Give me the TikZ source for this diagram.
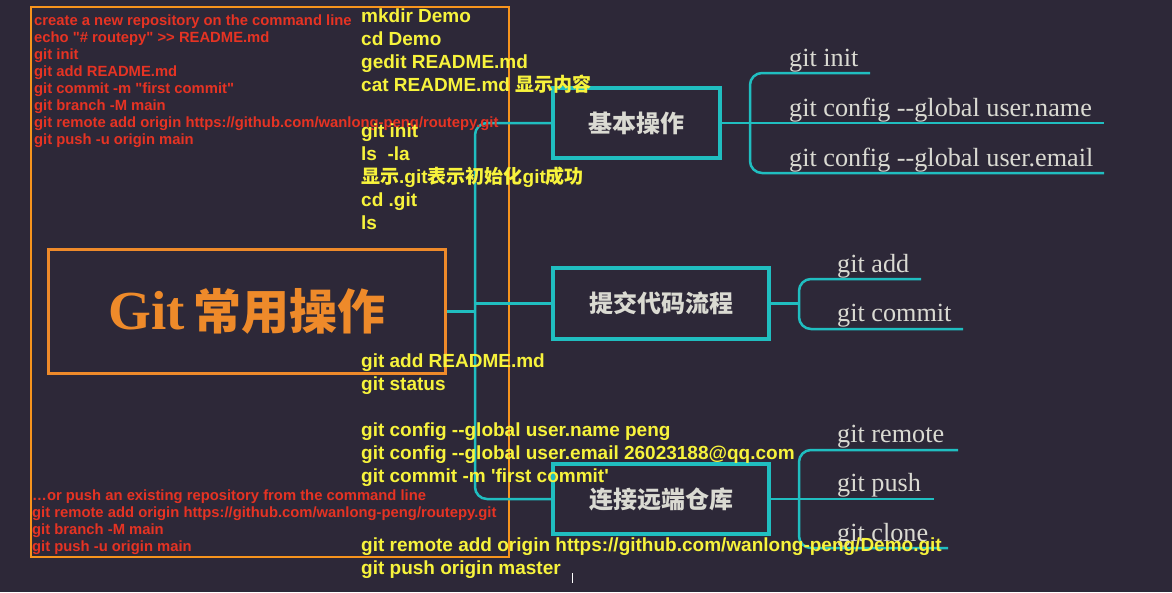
\documentclass[tikz,border=0pt]{standalone}
\usepackage{fontspec}
\setmainfont{Liberation Serif}[Ligatures=TeXOff]
\newfontfamily\arialb{Liberation Sans}[Ligatures=TeXOff]
\newfontfamily\cjk{Noto Sans CJK SC}
\definecolor{cbg}{HTML}{2D2838}
\definecolor{corange}{HTML}{F7941D}
\definecolor{croot}{HTML}{EE8A2A}
\definecolor{cteal}{HTML}{20BEC0}
\definecolor{cyellow}{HTML}{F7F33C}
\definecolor{cred}{HTML}{E63323}
\definecolor{cgray}{HTML}{DADAD2}
\begin{document}
\begin{tikzpicture}[x=1pt,y=-1pt,
  ytxt/.style={anchor=base west, inner sep=0pt, text=cyellow, font=\arialb\bfseries\fontsize{19}{22}\selectfont},
  rtxt/.style={anchor=base west, inner sep=0pt, text=cred, font=\arialb\bfseries\fontsize{14.8}{16}\selectfont},
  leaf/.style={anchor=base west, inner sep=0pt, text=cgray, font=\fontsize{26.2}{28}\selectfont},
  box/.style={draw=cteal, line width=4pt, inner sep=0pt, text=cgray, font=\cjk\bfseries\fontsize{24}{28}\selectfont},
  conn/.style={draw=cteal, line width=2.5pt, rounded corners=12pt},
]
\fill[cbg] (0,0) rectangle (1172,592);
\useasboundingbox (0,0) rectangle (1172,592);

% outer frame
\draw[corange, line width=2pt] (31,7) rectangle (509,557);

% root
\node[draw=croot, line width=3pt, minimum width=397pt, minimum height=124pt, inner sep=0pt, text=croot]
  (root) at (247,311.5) {\fontsize{55}{58}\selectfont\bfseries Git\hspace{8pt}{\cjk\bfseries\fontsize{48}{50}\selectfont 常用操作}};

% branch boxes
\node[box, minimum width=167pt, minimum height=70pt] (b1) at (636.5,123) {基本操作};
\node[box, minimum width=216pt, minimum height=71pt] (b2) at (661,303.5) {提交代码流程};
\node[box, minimum width=216pt, minimum height=70pt] (b3) at (661,499) {连接远端仓库};

% spine
\coordinate (s0) at (475,311.5);
\coordinate (st) at (475,123);
\coordinate (sb) at (475,499);
\coordinate (s2) at (475,303.5);
\draw[conn] (root.east) -- (s0);
\draw[conn] (b1.west) -- (st) -- (sb) -- (b3.west);
\draw[conn] (s2) -- (b2.west);

% box1 children
\coordinate (k1t) at (750,73);
\coordinate (k1b) at (750,173);
\coordinate (e11) at (870,73);
\coordinate (e12) at (1104,123);
\coordinate (e13) at (1104,173);
\draw[conn] (b1.east) -- (e12);
\draw[conn] (e11) -- (k1t) -- (k1b) -- (e13);
\node[leaf] (l11) at (789,66) {git init};
\node[leaf] (l12) at (789,116) {git config --global user.name};
\node[leaf] (l13) at (789,166) {git config --global user.email};

% box2 children
\coordinate (k2) at (799,303.5);
\coordinate (k2t) at (799,279);
\coordinate (k2b) at (799,329);
\coordinate (e21) at (921,279);
\coordinate (e22) at (963,329);
\draw[conn] (b2.east) -- (k2);
\draw[conn] (e21) -- (k2t) -- (k2b) -- (e22);
\node[leaf] (l21) at (837,272) {git add};
\node[leaf] (l22) at (837,321) {git commit};

% box3 children
\coordinate (k3t) at (799,450);
\coordinate (k3b) at (799,548);
\coordinate (e31) at (958,450);
\coordinate (e32) at (934,499);
\coordinate (e33) at (948,548);
\draw[conn] (b3.east) -- (e32);
\draw[conn] (e31) -- (k3t) -- (k3b) -- (e33);
\node[leaf] (l31) at (837,442) {git remote};
\node[leaf] (l32) at (837,491) {git push};
\node[leaf] (l33) at (837,541) {git clone};

% red text
\node[rtxt] (r1) at (34,25) {create a new repository on the command line};
\node[rtxt] (r2) at (34,42) {echo "\# routepy" >> README.md};
\node[rtxt] (r3) at (34,59) {git init};
\node[rtxt] (r4) at (34,76) {git add README.md};
\node[rtxt] (r5) at (34,93) {git commit -m "first commit"};
\node[rtxt] (r6) at (34,110) {git branch -M main};
\node[rtxt] (r7) at (34,127) {git remote add origin https://github.com/wanlong-peng/routepy.git};
\node[rtxt] (r8) at (34,144) {git push -u origin main};
\node[rtxt] (r9) at (32,500) {…or push an existing repository from the command line};
\node[rtxt] (r10) at (32,517) {git remote add origin https://github.com/wanlong-peng/routepy.git};
\node[rtxt] (r11) at (32,534) {git branch -M main};
\node[rtxt] (r12) at (32,551) {git push -u origin main};

% yellow text
\node[ytxt] (y1) at (361,22) {mkdir Demo};
\node[ytxt] (y2) at (361,45) {cd Demo};
\node[ytxt] (y3) at (361,68) {gedit README.md};
\node[ytxt] (y4) at (361,91) {cat README.md {\cjk 显示内容}};
\node[ytxt] (y5) at (361,137) {git init};
\node[ytxt] (y6) at (361,160) {ls\ \ -la};
\node[ytxt] (y7) at (361,183) {{\cjk 显示}.git{\cjk 表示初始化}git{\cjk 成功}};
\node[ytxt] (y8) at (361,206) {cd .git};
\node[ytxt] (y9) at (361,229) {ls};
\node[ytxt] (y10) at (361,367) {git add README.md};
\node[ytxt] (y11) at (361,390) {git status};
\node[ytxt] (y12) at (361,436) {git config --global user.name peng};
\node[ytxt] (y13) at (361,459) {git config --global user.email 26023188@qq.com};
\node[ytxt] (y14) at (361,482) {git commit -m 'first commit'};
\node[ytxt] (y15) at (361,551) {git remote add origin https://github.com/wanlong-peng/Demo.git};
\node[ytxt] (y16) at (361,574) {git push origin master};

% cursor
\coordinate (c1) at (572,573);
\coordinate (c2) at (572,583);
\draw[white, line width=0.8pt] (c1) -- (c2);
\end{tikzpicture}
\end{document}
